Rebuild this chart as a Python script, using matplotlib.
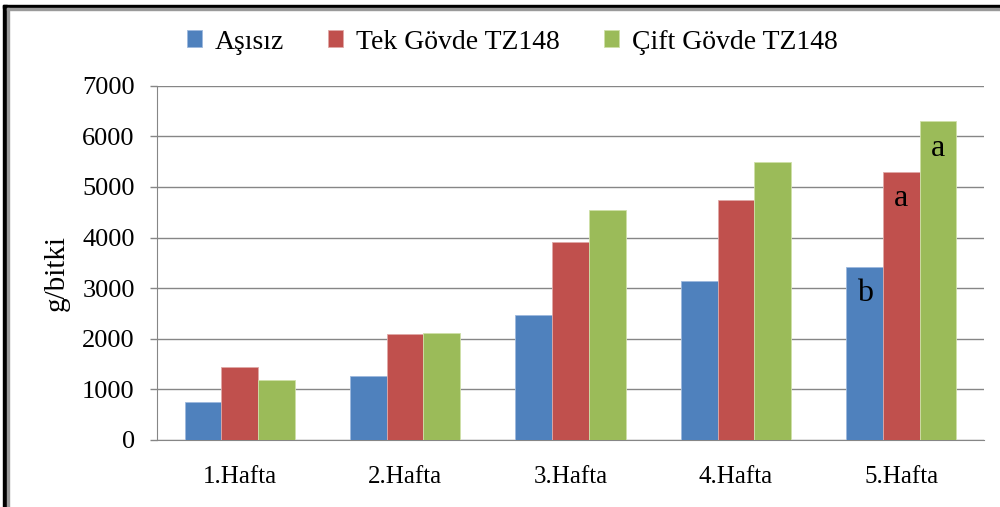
import numpy as np
import matplotlib
matplotlib.use('Agg')
import matplotlib.pyplot as plt
from matplotlib.patches import Rectangle

plt.rcParams['font.family'] = ['Liberation Serif', 'DejaVu Serif']

# data
weeks = ['1.Hafta', '2.Hafta', '3.Hafta', '4.Hafta', '5.Hafta']
series_names = ['Aşısız', 'Tek Gövde TZ148', 'Çift Gövde TZ148']
asisiz = [750, 1250, 2460, 3130, 3420]
tek_govde = [1430, 2090, 3920, 4740, 5300]
cift_govde = [1180, 2110, 4550, 5500, 6300]
# significance letters (only on the last week)
letters_asisiz = ['', '', '', '', 'b']
letters_tek = ['', '', '', '', 'a']
letters_cift = ['', '', '', '', 'a']
yticks = [0, 1000, 2000, 3000, 4000, 5000, 6000, 7000]

colors = ['#4F81BD', '#C0504D', '#9BBB59']
edge_colors = ['#9DB9DE', '#E0A9A7', '#CFE0A8']

fig = plt.figure(figsize=(10, 5.07), dpi=100)
ax = fig.add_axes([0.157, 0.1331, 0.827, 0.6973])

x = np.arange(len(weeks))
width = 1 / 4.5
all_values = [asisiz, tek_govde, cift_govde]
all_letters = [letters_asisiz, letters_tek, letters_cift]

for i, (name, vals, lets) in enumerate(zip(series_names, all_values, all_letters)):
    pos = x + (i - 1) * width
    ax.bar(pos, vals, width, color=colors[i], edgecolor=edge_colors[i],
           linewidth=0.6, label=name, zorder=3)
    for xp, v, t in zip(pos, vals, lets):
        if t:
            ax.annotate(t, (xp, v), xytext=(0, -9), textcoords='offset points',
                        ha='center', va='top', fontsize=23, zorder=4)

ax.set_xlim(-0.5, len(weeks) - 0.5)
ax.set_ylim(0, 7000)
ax.set_yticks(yticks)
ax.set_xticks(x)
ax.set_xticklabels(weeks, fontsize=18)
ax.tick_params(axis='x', length=0, pad=19)
ax.tick_params(axis='y', length=5, color='#868686', width=1, pad=11, labelsize=19)

ax.yaxis.grid(True, color='#868686', linewidth=1)
ax.set_axisbelow(True)
for s in ['top', 'right']:
    ax.spines[s].set_visible(False)
ax.spines['left'].set_color('#868686')
ax.spines['bottom'].set_color('#868686')

ax.set_ylabel('g/bitki', fontsize=21)
ax.yaxis.set_label_coords(-0.105, 0.47)

fig.legend(loc='center', bbox_to_anchor=(0.512, 0.917), ncol=3, frameon=False,
           fontsize=20, handlelength=0.55, handleheight=0.55, handletextpad=0.45,
           columnspacing=1.6)

# outer frame (thick black with grey shadow on top and left)
fig.patches.append(Rectangle((3 / 1000, 0), 4 / 1000, 1 - 5 / 507,
                             transform=fig.transFigure, color='black', zorder=10))
fig.patches.append(Rectangle((3 / 1000, 1 - 8 / 507), 1, 3 / 507,
                             transform=fig.transFigure, color='black', zorder=10))
fig.patches.append(Rectangle((7 / 1000, 0), 1.5 / 1000, 1 - 8 / 507,
                             transform=fig.transFigure, color='#9A9A9A', zorder=10))
fig.patches.append(Rectangle((7 / 1000, 1 - 9.5 / 507), 1, 1.5 / 507,
                             transform=fig.transFigure, color='#9A9A9A', zorder=10))

fig.savefig('out.png', dpi=100)
